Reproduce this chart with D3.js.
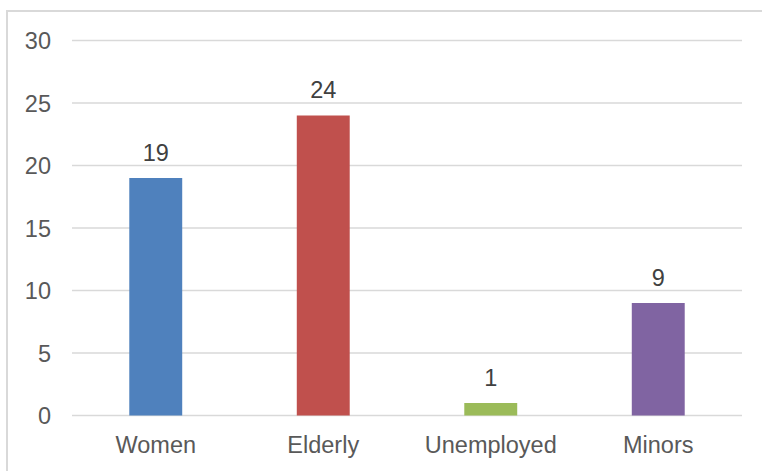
<!DOCTYPE html>
<html>
<head>
<meta charset="utf-8">
<script src="https://cdn.jsdelivr.net/npm/d3@7"></script>
<style>
  html, body { margin: 0; padding: 0; background: #ffffff; }
  svg { display: block; }
  text { font-family: "Liberation Sans", Arial, sans-serif; }
</style>
</head>
<body>
<svg id="chart" width="762" height="471"></svg>
<script>
// Chart data
const categories = ["Women", "Elderly", "Unemployed", "Minors"];
const values = [19, 24, 1, 9];
const barColors = ["#4F81BD", "#C0504D", "#9BBB59", "#8064A2"];
const yTicks = [0, 5, 10, 15, 20, 25, 30];

const svg = d3.select("#chart");
const fontSize = "23.5px";

// Chart frame
svg.append("rect")
  .attr("x", 7).attr("y", 11)
  .attr("width", 762).attr("height", 470)
  .attr("fill", "none")
  .attr("stroke", "#D9D9D9")
  .attr("stroke-width", 2);

const plot = { left: 72, right: 742, top: 40.5, bottom: 415.5 };

const x = d3.scaleBand()
  .domain(categories)
  .range([plot.left, plot.right])
  .padding(0);

const y = d3.scaleLinear()
  .domain([0, 30])
  .range([plot.bottom, plot.top]);

const barWidth = x.bandwidth() * 0.316;

// Horizontal gridlines
svg.append("g")
  .selectAll("line")
  .data(yTicks)
  .join("line")
  .attr("x1", plot.left)
  .attr("x2", plot.right)
  .attr("y1", d => y(d))
  .attr("y2", d => y(d))
  .attr("stroke", "#D9D9D9")
  .attr("stroke-width", 1.5);

// Y axis labels
const yAxis = d3.axisLeft(y).tickValues(yTicks).tickSize(0).tickPadding(0);
const yg = svg.append("g")
  .attr("transform", `translate(51,0)`)
  .call(yAxis);
yg.select(".domain").remove();
yg.selectAll("text")
  .attr("fill", "#595959")
  .attr("font-size", fontSize)
  .attr("font-family", "'Liberation Sans', Arial, sans-serif")
  .attr("dy", "0.35em");

// Bars
svg.append("g")
  .selectAll("rect")
  .data(values)
  .join("rect")
  .attr("x", (d, i) => x(categories[i]) + x.bandwidth() / 2 - barWidth / 2)
  .attr("width", barWidth)
  .attr("y", d => y(d))
  .attr("height", d => y(0) - y(d))
  .attr("fill", (d, i) => barColors[i]);

// Value labels
svg.append("g")
  .selectAll("text")
  .data(values)
  .join("text")
  .attr("x", (d, i) => x(categories[i]) + x.bandwidth() / 2)
  .attr("y", d => y(d) - 17.5)
  .attr("text-anchor", "middle")
  .attr("fill", "#404040")
  .attr("font-size", fontSize)
  .text(d => d);

// X axis category labels
const xAxis = d3.axisBottom(x).tickSize(0).tickPadding(0);
const xg = svg.append("g")
  .attr("transform", `translate(0,${plot.bottom})`)
  .call(xAxis);
xg.select(".domain").remove();
xg.selectAll("text")
  .attr("fill", "#595959")
  .attr("font-size", fontSize)
  .attr("font-family", "'Liberation Sans', Arial, sans-serif")
  .attr("dy", null)
  .attr("y", 37);
</script>
</body>
</html>
